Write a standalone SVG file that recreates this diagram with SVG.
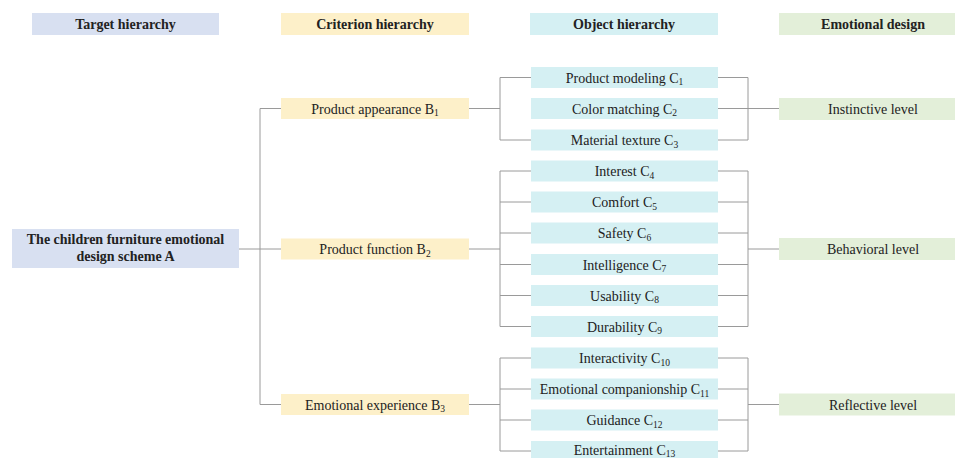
<svg xmlns="http://www.w3.org/2000/svg" width="958" height="458" viewBox="0 0 958 458">
<style>
  text { font-family: "Liberation Serif", "Times New Roman", serif; fill: #222; text-anchor: middle; }
  .hd { font-size: 14px; font-weight: bold; }
  .n { font-size: 14px; }
  .a { font-size: 14px; font-weight: bold; }
  .sub { font-size: 9.5px; }
  .blue { fill: #d8e0f1; }
  .yel { fill: #fdf0c9; }
  .cyan { fill: #d5f0f3; }
  .grn { fill: #e3efd9; }
  .conn line { stroke: #9a9a9a; stroke-width: 1; fill: none; }
</style>
<rect width="958" height="458" fill="#ffffff"/>

<g id="headers">
  <g id="h-target"><rect class="blue" x="32" y="13" width="187" height="22"/><text class="hd" x="125.5" y="29">Target hierarchy</text></g>
  <g id="h-criterion"><rect class="yel" x="281" y="13" width="188" height="22"/><text class="hd" x="375" y="29">Criterion hierarchy</text></g>
  <g id="h-object"><rect class="cyan" x="530" y="13" width="188" height="22"/><text class="hd" x="624" y="29">Object hierarchy</text></g>
  <g id="h-emotional"><rect class="grn" x="779" y="13" width="176" height="22"/><text class="hd" x="873" y="29">Emotional design</text></g>
</g>

<g class="conn" id="connectors">
  <line x1="239" y1="249" x2="281" y2="249"/>
  <line x1="260" y1="108.5" x2="260" y2="404.5"/>
  <line x1="260" y1="108.5" x2="281" y2="108.5"/>
  <line x1="260" y1="404.5" x2="281" y2="404.5"/>

  <line x1="469" y1="108.5" x2="500" y2="108.5"/>
  <line x1="500" y1="77.5" x2="500" y2="140"/>
  <line x1="500" y1="77.5" x2="531" y2="77.5"/>
  <line x1="500" y1="140" x2="531" y2="140"/>

  <line x1="469" y1="249" x2="500" y2="249"/>
  <line x1="500" y1="171" x2="500" y2="326.5"/>
  <line x1="500" y1="171" x2="531" y2="171"/>
  <line x1="500" y1="202" x2="531" y2="202"/>
  <line x1="500" y1="233" x2="531" y2="233"/>
  <line x1="500" y1="264.5" x2="531" y2="264.5"/>
  <line x1="500" y1="295.5" x2="531" y2="295.5"/>
  <line x1="500" y1="326.5" x2="531" y2="326.5"/>

  <line x1="469" y1="404.5" x2="500" y2="404.5"/>
  <line x1="500" y1="358" x2="500" y2="451"/>
  <line x1="500" y1="358" x2="531" y2="358"/>
  <line x1="500" y1="389" x2="531" y2="389"/>
  <line x1="500" y1="420" x2="531" y2="420"/>
  <line x1="500" y1="451" x2="531" y2="451"/>

  <line x1="718" y1="77.5" x2="748" y2="77.5"/>
  <line x1="718" y1="108.5" x2="779" y2="108.5"/>
  <line x1="718" y1="140" x2="748" y2="140"/>
  <line x1="748" y1="77.5" x2="748" y2="140"/>

  <line x1="748" y1="171" x2="748" y2="326.5"/>
  <line x1="718" y1="171" x2="748" y2="171"/>
  <line x1="718" y1="202" x2="748" y2="202"/>
  <line x1="718" y1="233" x2="748" y2="233"/>
  <line x1="718" y1="264.5" x2="748" y2="264.5"/>
  <line x1="718" y1="295.5" x2="748" y2="295.5"/>
  <line x1="718" y1="326.5" x2="748" y2="326.5"/>
  <line x1="748" y1="249" x2="779" y2="249"/>

  <line x1="748" y1="358" x2="748" y2="451"/>
  <line x1="718" y1="358" x2="748" y2="358"/>
  <line x1="718" y1="389" x2="748" y2="389"/>
  <line x1="718" y1="420" x2="748" y2="420"/>
  <line x1="718" y1="451" x2="748" y2="451"/>
  <line x1="748" y1="404.5" x2="779" y2="404.5"/>
</g>

<g id="A"><rect class="blue" x="12" y="229" width="227" height="39"/>
  <text class="a" x="125.5" y="244">The children furniture emotional</text>
  <text class="a" x="125.5" y="261">design scheme A</text></g>

<g id="B1"><rect class="yel" x="281" y="98" width="188" height="21"/><text class="n" x="375" y="113.5">Product appearance B<tspan class="sub" dy="2.5">1</tspan></text></g>
<g id="B2"><rect class="yel" x="281" y="238.5" width="188" height="21"/><text class="n" x="375" y="254">Product function B<tspan class="sub" dy="2.5">2</tspan></text></g>
<g id="B3"><rect class="yel" x="281" y="394" width="188" height="21"/><text class="n" x="375" y="409.5">Emotional experience B<tspan class="sub" dy="2.5">3</tspan></text></g>

<g id="C1"><rect class="cyan" x="531" y="67" width="187" height="21"/><text class="n" x="624.5" y="82.5">Product modeling C<tspan class="sub" dy="2.5">1</tspan></text></g>
<g id="C2"><rect class="cyan" x="531" y="98" width="187" height="21"/><text class="n" x="624.5" y="113.5">Color matching C<tspan class="sub" dy="2.5">2</tspan></text></g>
<g id="C3"><rect class="cyan" x="531" y="129.5" width="187" height="21"/><text class="n" x="624.5" y="145">Material texture C<tspan class="sub" dy="2.5">3</tspan></text></g>
<g id="C4"><rect class="cyan" x="531" y="160.5" width="187" height="21"/><text class="n" x="624.5" y="176">Interest C<tspan class="sub" dy="2.5">4</tspan></text></g>
<g id="C5"><rect class="cyan" x="531" y="191.5" width="187" height="21"/><text class="n" x="624.5" y="207">Comfort C<tspan class="sub" dy="2.5">5</tspan></text></g>
<g id="C6"><rect class="cyan" x="531" y="222.5" width="187" height="21"/><text class="n" x="624.5" y="238">Safety C<tspan class="sub" dy="2.5">6</tspan></text></g>
<g id="C7"><rect class="cyan" x="531" y="254" width="187" height="21"/><text class="n" x="624.5" y="269.5">Intelligence C<tspan class="sub" dy="2.5">7</tspan></text></g>
<g id="C8"><rect class="cyan" x="531" y="285" width="187" height="21"/><text class="n" x="624.5" y="300.5">Usability C<tspan class="sub" dy="2.5">8</tspan></text></g>
<g id="C9"><rect class="cyan" x="531" y="316" width="187" height="21"/><text class="n" x="624.5" y="331.5">Durability C<tspan class="sub" dy="2.5">9</tspan></text></g>
<g id="C10"><rect class="cyan" x="531" y="347.5" width="187" height="21"/><text class="n" x="624.5" y="363">Interactivity C<tspan class="sub" dy="2.5">10</tspan></text></g>
<g id="C11"><rect class="cyan" x="531" y="378.5" width="187" height="21"/><text class="n" x="624.5" y="394">Emotional companionship C<tspan class="sub" dy="2.5">11</tspan></text></g>
<g id="C12"><rect class="cyan" x="531" y="409.5" width="187" height="21"/><text class="n" x="624.5" y="425">Guidance C<tspan class="sub" dy="2.5">12</tspan></text></g>
<g id="C13"><rect class="cyan" x="531" y="441" width="187" height="21"/><text class="n" x="624.5" y="454.5">Entertainment C<tspan class="sub" dy="2">13</tspan></text></g>

<g id="L1"><rect class="grn" x="779" y="98" width="176" height="22"/><text class="n" x="873" y="114">Instinctive level</text></g>
<g id="L2"><rect class="grn" x="779" y="238" width="176" height="22"/><text class="n" x="873" y="254">Behavioral level</text></g>
<g id="L3"><rect class="grn" x="779" y="393.5" width="176" height="22"/><text class="n" x="873" y="409.5">Reflective level</text></g>
</svg>
